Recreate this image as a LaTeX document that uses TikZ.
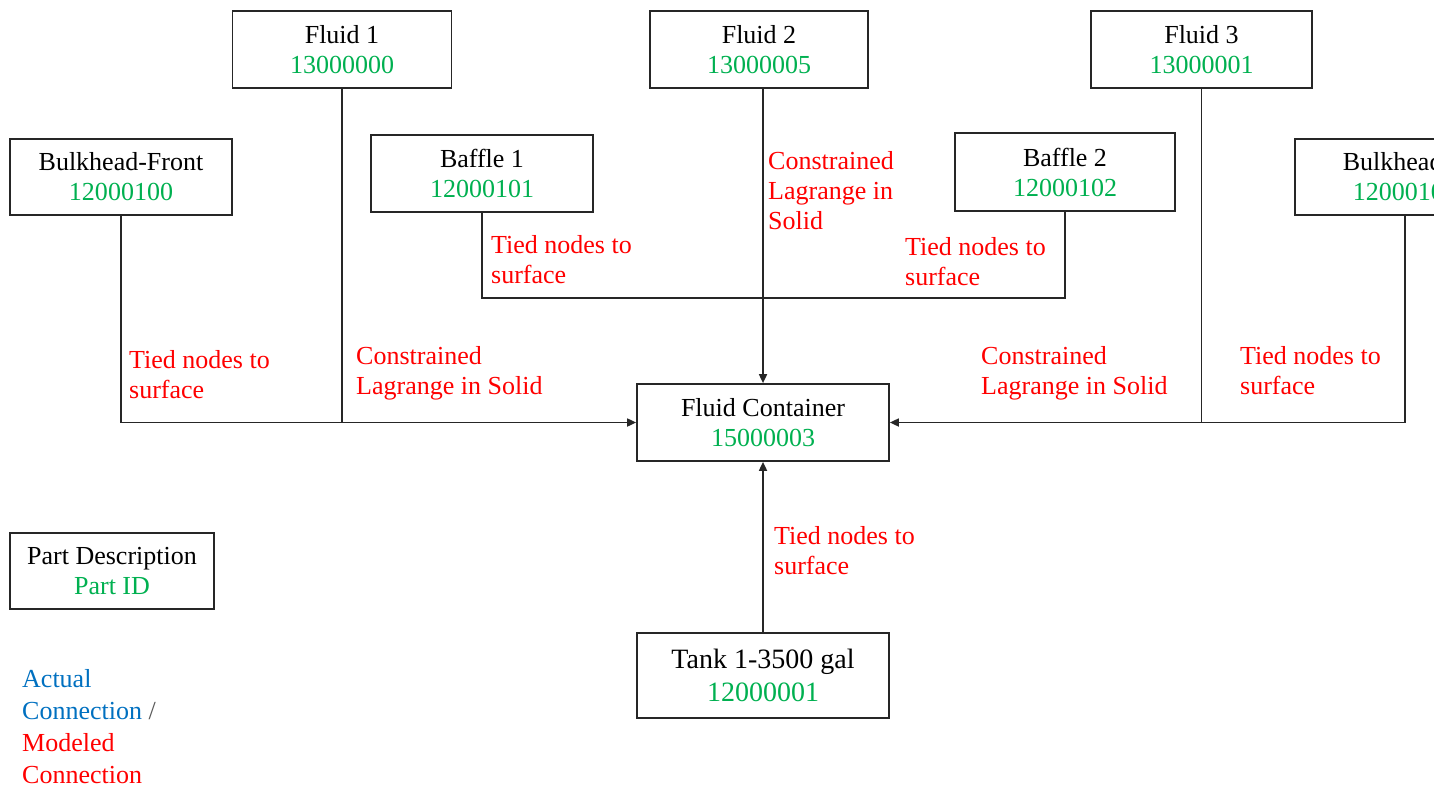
\documentclass[tikz,border=0pt]{standalone}
\usepackage{fontspec}
\setmainfont{Liberation Serif}
\usetikzlibrary{arrows.meta}
\definecolor{idgreen}{RGB}{0,176,80}
\definecolor{modred}{RGB}{255,0,0}
\definecolor{actblue}{RGB}{0,112,192}
\definecolor{slashgray}{RGB}{89,89,89}
\newcommand{\partid}[1]{\textcolor{idgreen}{#1}}
\begin{document}
\begin{tikzpicture}[x=1pt,y=-1pt,
  box/.style={draw=black!85, line width=1.7pt, align=center, inner sep=0pt,
    font=\fontsize{26}{30}\selectfont},
  line/.style={draw=black!85, line width=1.7pt},
  conn/.style={line, -{Triangle[length=9pt,width=8pt]}},
  lab/.style={anchor=base west, align=left, inner sep=0pt, text=modred,
    font=\fontsize{26}{30}\selectfont}]
\useasboundingbox (0,0) rectangle (1434,790);
\clip (0,0) rectangle (1434,790);

% boxes
\node[box, minimum width=219pt, minimum height=77pt] (f1) at (342,49.5) {Fluid 1\\\partid{13000000}};
\node[box, minimum width=218pt, minimum height=77pt] (f2) at (759,49.5) {Fluid 2\\\partid{13000005}};
\node[box, minimum width=221pt, minimum height=77pt] (f3) at (1201.5,49.5) {Fluid 3\\\partid{13000001}};
\node[box, minimum width=222pt, minimum height=76pt] (bf) at (121,177) {Bulkhead-Front\\\partid{12000100}};
\node[box, minimum width=222pt, minimum height=77pt] (b1) at (482,173.5) {Baffle 1\\\partid{12000101}};
\node[box, minimum width=220pt, minimum height=78pt] (b2) at (1065,172) {Baffle 2\\\partid{12000102}};
\node[box, anchor=west, align=left, text width=174pt, inner xsep=48pt, minimum height=76pt] (br) at (1294,177) {Bulkhead-Rear\\\hspace*{10pt}\partid{12000103}};
\node[box, minimum width=252pt, minimum height=77pt] (fc) at (763,422.5) {Fluid Container\\\partid{15000003}};
\node[box, minimum width=252pt, minimum height=85pt, font=\fontsize{28}{33}\selectfont] (tk) at (763,675.5) {Tank 1-3500 gal\\\partid{12000001}};
\node[box, minimum width=204pt, minimum height=76pt] (pd) at (112,571) {Part Description\\\partid{Part ID}};

% connectors
\draw[conn] (bf.south) |- (fc.west);
\draw[line] (f1.south) -- (f1.south |- fc.west);
\draw[conn] (f2.south -| fc.north) -- (fc.north);
\draw[line] (b1.south) -- ++(0,85) -| (b2.south);
\draw[line] (f3.south) -- (f3.south |- fc.east);
\draw[conn] (br.south west) ++(111,0) |- (fc.east);
\draw[conn] (tk.north) -- (fc.south);

% labels (base = baseline of the last line)
\node[lab] (l1) at (129,398) {Tied nodes to\\surface};
\node[lab] (l2) at (356,394) {Constrained\\Lagrange in Solid};
\node[lab] (l3) at (768,229) {Constrained\\Lagrange in\\Solid};
\node[lab] (l4) at (491,283) {Tied nodes to\\surface};
\node[lab] (l5) at (905,285) {Tied nodes to\\surface};
\node[lab] (l6) at (981,394) {Constrained\\Lagrange in Solid};
\node[lab] (l7) at (1240,394) {Tied nodes to\\surface};
\node[lab] (l8) at (774,574) {Tied nodes to\\surface};

% legend
\node[lab, font=\fontsize{26}{32}\selectfont] (leg) at (22,783) {\textcolor{actblue}{Actual}\\\textcolor{actblue}{Connection} \textcolor{slashgray}{/}\\Modeled\\Connection};
\end{tikzpicture}
\end{document}
